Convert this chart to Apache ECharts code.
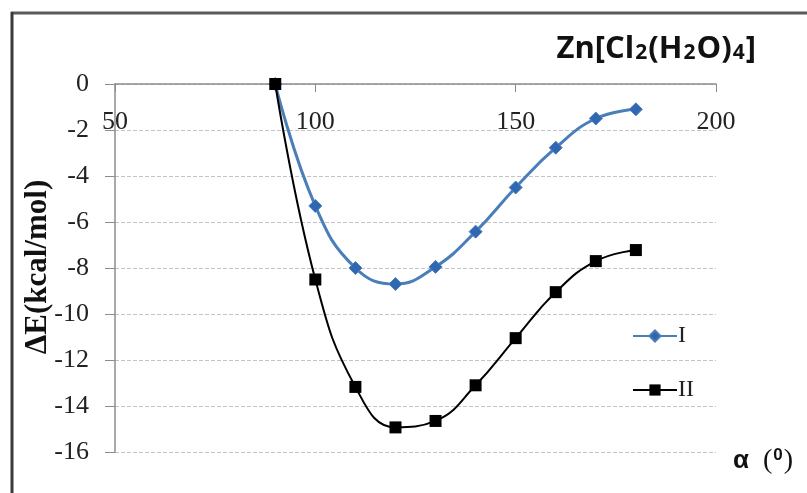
<!DOCTYPE html>
<html>
<head>
<meta charset="utf-8">
<script src="https://cdn.jsdelivr.net/npm/echarts@6/dist/echarts.min.js"></script>
<style>
  html, body { margin: 0; padding: 0; background: #fff; }
  #chart { width: 807px; height: 493px; }
</style>
</head>
<body>
<div id="chart"></div>
<script>
// angle alpha (degrees) and energies in kcal/mol
var angles = [90, 100, 110, 120, 130, 140, 150, 160, 170, 180];
var energyI = [0, -5.3, -8.0, -8.7, -7.95, -6.42, -4.5, -2.77, -1.5, -1.1];
var energyII = [0, -8.5, -13.17, -14.93, -14.65, -13.1, -11.05, -9.05, -7.7, -7.22];
var seriesNames = ['I', 'II'];
var xTicks = [50, 100, 150, 200];
var yTicks = [0, -2, -4, -6, -8, -10, -12, -14, -16];

function pairs(ys) {
  return angles.map(function (a, i) { return [a, ys[i]]; });
}

var serif = 'Liberation Serif, Times New Roman, serif';

var chart = echarts.init(document.getElementById('chart'));
var option = {
  animation: false,
  title: {
    right: 46,
    top: 29,
    text: '{b|Zn[Cl}{s|2}{b|(H}{s|2}{b|O)}{s|4}{b|]}',
    textStyle: {
      rich: {
        b: { fontFamily: 'Open Sans', fontWeight: 'bold', fontSize: 31, color: '#111' },
        s: { fontFamily: 'Open Sans', fontSize: 21, color: '#111', padding: [8, 1, 0, 1] }
      }
    }
  },
  grid: { left: 115, right: 91, top: 84, bottom: 41 },
  legend: {
    orient: 'vertical',
    left: 627,
    top: 319,
    itemWidth: 44,
    itemHeight: 14,
    itemGap: 30,
    data: seriesNames,
    textStyle: { fontFamily: serif, fontSize: 24, color: '#222', padding: [0, 0, 0, -4] }
  },
  xAxis: {
    type: 'value',
    position: 'top',
    min: xTicks[0],
    max: xTicks[xTicks.length - 1],
    interval: 50,
    axisLine: { onZero: false, lineStyle: { color: '#8c8c8c', width: 1.5 } },
    axisTick: { show: true, inside: true, length: 8, lineStyle: { color: '#8c8c8c' } },
    axisLabel: { inside: true, margin: 25, fontFamily: serif, fontSize: 26, color: '#222' },
    splitLine: { show: false }
  },
  yAxis: {
    type: 'value',
    min: yTicks[yTicks.length - 1],
    max: yTicks[0],
    interval: 2,
    axisLine: { show: true, lineStyle: { color: '#8c8c8c', width: 1.5 } },
    axisTick: { show: true, length: 10, lineStyle: { color: '#8c8c8c' } },
    axisLabel: { margin: 26, fontFamily: serif, fontSize: 26, color: '#222' },
    splitLine: { show: true, lineStyle: { color: '#c4c4c4', type: 'dashed', width: 1 } }
  },
  graphic: [
    { type: 'line', shape: { x1: 11, y1: 13, x2: 807, y2: 13 }, style: { stroke: '#5a5a5a', lineWidth: 3 } },
    { type: 'line', shape: { x1: 12, y1: 12, x2: 12, y2: 493 }, style: { stroke: '#3a3a3a', lineWidth: 3 } },
    {
      type: 'text',
      x: 38,
      y: 267,
      rotation: Math.PI / 2,
      style: {
        text: 'ΔE(kcal/mol)',
        font: 'bold 31px Liberation Serif',
        fill: '#111',
        textAlign: 'center',
        textVerticalAlign: 'middle'
      }
    },
    {
      type: 'text',
      x: 733,
      y: 447,
      style: {
        text: '{a|α}{p|(}{u|0}{p|)}',
        rich: {
          a: { fontFamily: 'Liberation Sans', fontWeight: 'bold', fontSize: 26, fill: '#111', padding: [0, 14, 0, 0] },
          p: { fontFamily: 'Liberation Serif', fontSize: 28, fill: '#111' },
          u: { fontFamily: 'Liberation Sans', fontWeight: 'bold', fontSize: 17, fill: '#111', verticalAlign: 'top', padding: [0, 1, 8, 1] }
        }
      }
    }
  ],
  series: [
    {
      name: seriesNames[0],
      type: 'line',
      smooth: 0.45,
      data: pairs(energyI),
      symbol: 'diamond',
      symbolSize: 13,
      lineStyle: { color: '#4a7ebb', width: 3 },
      itemStyle: { color: '#2f67b0', borderColor: '#4a7ebb', borderWidth: 1 },
      z: 2
    },
    {
      name: seriesNames[1],
      type: 'line',
      smooth: 0.45,
      data: pairs(energyII),
      symbol: 'rect',
      symbolSize: 12,
      lineStyle: { color: '#000', width: 2 },
      itemStyle: { color: '#000' },
      z: 3
    }
  ]
};
chart.setOption(option);
</script>
</body>
</html>
